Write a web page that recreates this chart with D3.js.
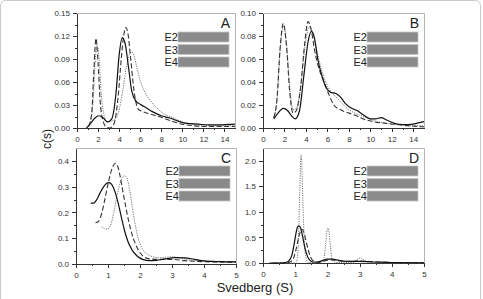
<!DOCTYPE html>
<html lang="en">
<head>
  <meta charset="UTF-8">
  <title>c(s) distributions</title>
  <script src="https://d3js.org/d3.v7.min.js"></script>
  <style>
    body { margin: 0; background: #fff; }
    svg { font-family: "Liberation Sans", Arial, sans-serif; }
    .axis path, .axis line { stroke: #333; shape-rendering: crispEdges; }
    .axis text { fill: #333; font-size: 8px; }
  </style>
</head>
<body>
  <svg width="483" height="299"></svg>

  <script>
    // ---- data ----
    const legendLabels = ["E2", "E3", "E4"];

    // panel A
    const solidAx = [0.9,1.3,1.7,2.1,2.5,2.9,3.3,3.7,4.0,4.3,4.6,4.9,5.2,5.6,6.0,6.6,7.2,8.0,8.8,9.6,10.4,11.5,12.5,13.5,15];
    const solidAy = [0.000,0.006,0.013,0.016,0.013,0.008,0.012,0.045,0.095,0.118,0.108,0.078,0.048,0.035,0.031,0.026,0.021,0.016,0.013,0.009,0.006,0.005,0.004,0.004,0.005];
    const dashAx = [1.1,1.4,1.6,1.8,2.0,2.2,2.5,2.8,3.1,3.5,3.9,4.2,4.45,4.65,4.85,5.1,5.4,5.8,6.3,7,8,9,10,11,12,13,14,15];
    const dashAy = [0.002,0.02,0.075,0.117,0.085,0.035,0.008,0.001,0.000,0.005,0.04,0.09,0.122,0.131,0.122,0.09,0.05,0.025,0.021,0.018,0.014,0.009,0.005,0.003,0.002,0.002,0.002,0.002];
    const dotAx = [1.2,1.5,1.7,1.9,2.1,2.3,2.6,2.9,3.3,3.8,4.3,4.7,5.0,5.2,5.4,5.7,6.0,6.4,7.0,7.6,8.3,9.0,10,11,12,13,14,15];
    const dotAy = [0.005,0.03,0.08,0.109,0.09,0.045,0.015,0.008,0.009,0.015,0.045,0.08,0.096,0.099,0.095,0.078,0.062,0.048,0.035,0.026,0.018,0.014,0.008,0.005,0.003,0.003,0.003,0.003];

    // panel B
    const solidBx = [1.0,1.4,1.9,2.3,2.7,3.0,3.4,3.8,4.2,4.5,4.8,5.1,5.5,5.9,6.3,6.8,7.2,7.7,8.3,8.8,9.4,10.0,10.5,11.0,11.5,12.0,12.5,13.5,14.3,15];
    const solidBy = [0.008,0.013,0.017,0.015,0.010,0.008,0.015,0.045,0.075,0.084,0.078,0.060,0.045,0.035,0.031,0.030,0.027,0.021,0.017,0.015,0.011,0.008,0.008,0.009,0.007,0.005,0.0035,0.003,0.004,0.0055];
    const dashBx = [1.0,1.3,1.6,1.9,2.2,2.5,2.8,3.1,3.5,3.9,4.2,4.5,4.8,5.2,5.6,6.1,6.6,7.2,8.0,8.6,9.3,10.3,11.5,12.5,13.5,15];
    const dashBy = [0.009,0.025,0.07,0.091,0.07,0.03,0.013,0.015,0.035,0.075,0.0925,0.085,0.068,0.052,0.042,0.03,0.02,0.016,0.013,0.011,0.008,0.0055,0.004,0.003,0.002,0.001];
    const dotBx = [1.0,1.3,1.6,1.9,2.2,2.5,2.8,3.1,3.5,3.9,4.3,4.6,4.9,5.3,5.8,6.3,6.8,7.4,8.0,8.8,9.6,10.5,11.5,12.5,13.5,15];
    const dotBy = [0.009,0.024,0.068,0.089,0.072,0.035,0.016,0.017,0.035,0.07,0.088,0.084,0.072,0.056,0.041,0.032,0.027,0.021,0.016,0.012,0.009,0.006,0.004,0.003,0.002,0.002];

    // panel C
    const solidCx = [0.46,0.55,0.65,0.75,0.85,0.95,1.03,1.12,1.22,1.32,1.42,1.52,1.62,1.75,1.9,2.1,2.3,2.5,2.8,3.1,3.4,3.7,4.0,4.5,5.0];
    const solidCy = [0.236,0.236,0.25,0.275,0.297,0.312,0.316,0.308,0.28,0.235,0.18,0.128,0.088,0.055,0.032,0.017,0.013,0.014,0.02,0.025,0.024,0.018,0.012,0.009,0.008];
    const dashCx = [0.61,0.7,0.8,0.9,1.0,1.1,1.18,1.24,1.3,1.38,1.46,1.55,1.64,1.74,1.85,1.97,2.1,2.3,2.6,3.0,3.4,3.8,4.3,5.0];
    const dashCy = [0.16,0.165,0.195,0.25,0.31,0.36,0.385,0.391,0.38,0.34,0.285,0.225,0.17,0.12,0.08,0.05,0.03,0.02,0.018,0.018,0.013,0.01,0.008,0.007];
    const dotCx = [0.8,0.88,0.98,1.08,1.18,1.28,1.38,1.46,1.53,1.6,1.68,1.76,1.84,1.93,2.05,2.2,2.4,2.6,2.8,3.0,3.2,3.5,3.9,4.4,5.0];
    const dotCy = [0.145,0.138,0.135,0.15,0.2,0.265,0.315,0.338,0.342,0.33,0.285,0.22,0.16,0.105,0.065,0.04,0.028,0.024,0.026,0.028,0.025,0.017,0.012,0.01,0.009];

    // panel D
    const solidDx = [0.2,0.5,0.7,0.8,0.9,0.97,1.03,1.08,1.12,1.17,1.23,1.3,1.38,1.46,1.55,1.7,1.85,2.0,2.15,2.35,2.6,3.0,3.5,4.0,5.0];
    const solidDy = [0,0,0.01,0.04,0.16,0.38,0.6,0.71,0.725,0.68,0.52,0.3,0.13,0.05,0.02,0.02,0.05,0.075,0.075,0.05,0.03,0.03,0.02,0.01,0.005];
    const dashDx = [0.3,0.6,0.8,0.92,1.02,1.1,1.16,1.21,1.27,1.34,1.42,1.5,1.6,1.7,1.85,2.0,2.15,2.35,2.6,3.0,3.5,4.0,5.0];
    const dashDy = [0,0,0.01,0.06,0.25,0.48,0.62,0.66,0.6,0.42,0.22,0.09,0.03,0.015,0.03,0.055,0.06,0.045,0.03,0.04,0.02,0.01,0.005];
    const dotDx = [0.5,0.95,1.04,1.09,1.13,1.16,1.18,1.2,1.23,1.27,1.32,1.4,1.8,1.9,1.95,1.99,2.02,2.05,2.09,2.14,2.25,2.8,2.9,2.97,3.03,3.1,3.2,3.4,5.0];
    const dotDy = [0,0,0.02,0.3,1.1,1.8,2.12,2.0,1.4,0.6,0.15,0.01,0.01,0.1,0.4,0.64,0.68,0.6,0.35,0.1,0.01,0.01,0.05,0.09,0.1,0.08,0.03,0.005,0];

    // tick values
    const xTicksAB = [0,2,4,6,8,10,12,14];
    const xTicksCD = [0,1,2,3,4,5];
    const yTicksA = [0,0.03,0.06,0.09,0.12,0.15];
    const yTicksB = [0,0.02,0.04,0.06,0.08,0.10];
    const yTicksC = [0,0.1,0.2,0.3,0.4];
    const yTicksD = [0,0.5,1.0,1.5,2.0];

    const zip = (xs, ys) => xs.map((x, i) => ({ x: x, y: ys[i] }));

    const panels = [
      { name: "A", left: 77, top: 13, w: 158, h: 115, xMax: 15, yMax: 0.15, xTicks: xTicksAB, yTicks: yTicksA, yFmt: ".2f",
        series: [zip(solidAx, solidAy), zip(dashAx, dashAy), zip(dotAx, dotAy)] },
      { name: "B", left: 263, top: 13, w: 161, h: 115, xMax: 15, yMax: 0.10, xTicks: xTicksAB, yTicks: yTicksB, yFmt: ".2f",
        series: [zip(solidBx, solidBy), zip(dashBx, dashBy), zip(dotBx, dotBy)] },
      { name: "C", left: 76, top: 148, w: 160, h: 116, xMax: 5, yMax: 0.45, xTicks: xTicksCD, yTicks: yTicksC, yFmt: ".1f",
        series: [zip(solidCx, solidCy), zip(dashCx, dashCy), zip(dotCx, dotCy)] },
      { name: "D", left: 263, top: 148, w: 161, h: 115, xMax: 5, yMax: 2.25, xTicks: xTicksCD, yTicks: yTicksD, yFmt: ".1f",
        series: [zip(solidDx, solidDy), zip(dashDx, dashDy), zip(dotDx, dotDy)] }
    ];

    const styles = [
      { stroke: "#111", width: 1.2, dash: null },
      { stroke: "#333", width: 1.1, dash: "5,2.5" },
      { stroke: "#777", width: 1, dash: "1.2,1.2" }
    ];

    const svg = d3.select("svg");

    // outer frame
    svg.append("rect")
       .attr("x", 0.5).attr("y", 0.5)
       .attr("width", 480).attr("height", 330)
       .attr("rx", 5)
       .attr("fill", "none")
       .attr("stroke", "#c8c8c8");

    panels.forEach(p => {
      const g = svg.append("g").attr("transform", `translate(${p.left},${p.top})`);

      const x = d3.scaleLinear().domain([0, p.xMax]).range([0, p.w]);
      const y = d3.scaleLinear().domain([0, p.yMax]).range([p.h, 0]);

      // light top/right box
      g.append("path")
       .attr("d", `M0.5,0.5H${p.w + 0.5}V${p.h}`)
       .attr("fill", "none")
       .attr("stroke", "#b5b5b5");

      // minor ticks
      const xStep = p.xTicks[1] - p.xTicks[0];
      const yStep = p.yTicks[1] - p.yTicks[0];
      const xMinor = d3.range(xStep / 2, p.xMax, xStep);
      const yMinor = d3.range(yStep / 2, p.yMax, yStep);

      g.append("g").attr("class", "axis")
       .attr("transform", `translate(0,${p.h})`)
       .call(d3.axisBottom(x).tickValues(xMinor).tickSize(2).tickFormat(""))
       .select(".domain").remove();
      g.append("g").attr("class", "axis")
       .call(d3.axisLeft(y).tickValues(yMinor).tickSize(2).tickFormat(""))
       .select(".domain").remove();

      g.append("g").attr("class", "axis")
       .attr("transform", `translate(0,${p.h})`)
       .call(d3.axisBottom(x).tickValues(p.xTicks).tickSize(4).tickSizeOuter(0).tickPadding(4).tickFormat(d3.format("d")));
      g.append("g").attr("class", "axis")
       .call(d3.axisLeft(y).tickValues(p.yTicks).tickSize(4).tickSizeOuter(0).tickPadding(3).tickFormat(d3.format(p.yFmt)));

      const line = d3.line()
        .x(d => x(d.x))
        .y(d => y(d.y))
        .curve(d3.curveMonotoneX);

      // draw dotted first so solid sits on top
      [2, 1, 0].forEach(i => {
        g.append("path")
         .datum(p.series[i])
         .attr("d", line)
         .attr("fill", "none")
         .attr("stroke", styles[i].stroke)
         .attr("stroke-width", styles[i].width)
         .attr("stroke-dasharray", styles[i].dash);
      });

      // panel letter
      g.append("text")
       .attr("x", p.w - 5)
       .attr("y", 15)
       .attr("text-anchor", "end")
       .style("font-size", "14px")
       .style("fill", "#222")
       .text(p.name);

      // gel insets
      const insetTop = p.name === "A" || p.name === "B" ? 19 : 18;
      legendLabels.forEach((lab, i) => {
        const yy = insetTop + i * 12.5;
        g.append("rect")
         .attr("x", p.w - 57)
         .attr("y", yy)
         .attr("width", 51)
         .attr("height", 10)
         .attr("fill", "#8a8a8a")
         .attr("stroke", "#c4c4c4")
         .attr("stroke-width", 0.8);
        g.append("text")
         .attr("x", p.w - 57)
         .attr("y", yy + 9)
         .attr("text-anchor", "end")
         .style("font-size", "11px")
         .style("fill", "#222")
         .text(lab);
      });
    });

    // axis titles
    svg.append("text")
       .attr("transform", "translate(51,139) rotate(-90)")
       .attr("text-anchor", "middle")
       .style("font-size", "12px")
       .style("fill", "#222")
       .text("c(s)");

    svg.append("text")
       .attr("x", 255)
       .attr("y", 292)
       .attr("text-anchor", "middle")
       .style("font-size", "13px")
       .style("fill", "#222")
       .text("Svedberg (S)");
  </script>
</body>
</html>
